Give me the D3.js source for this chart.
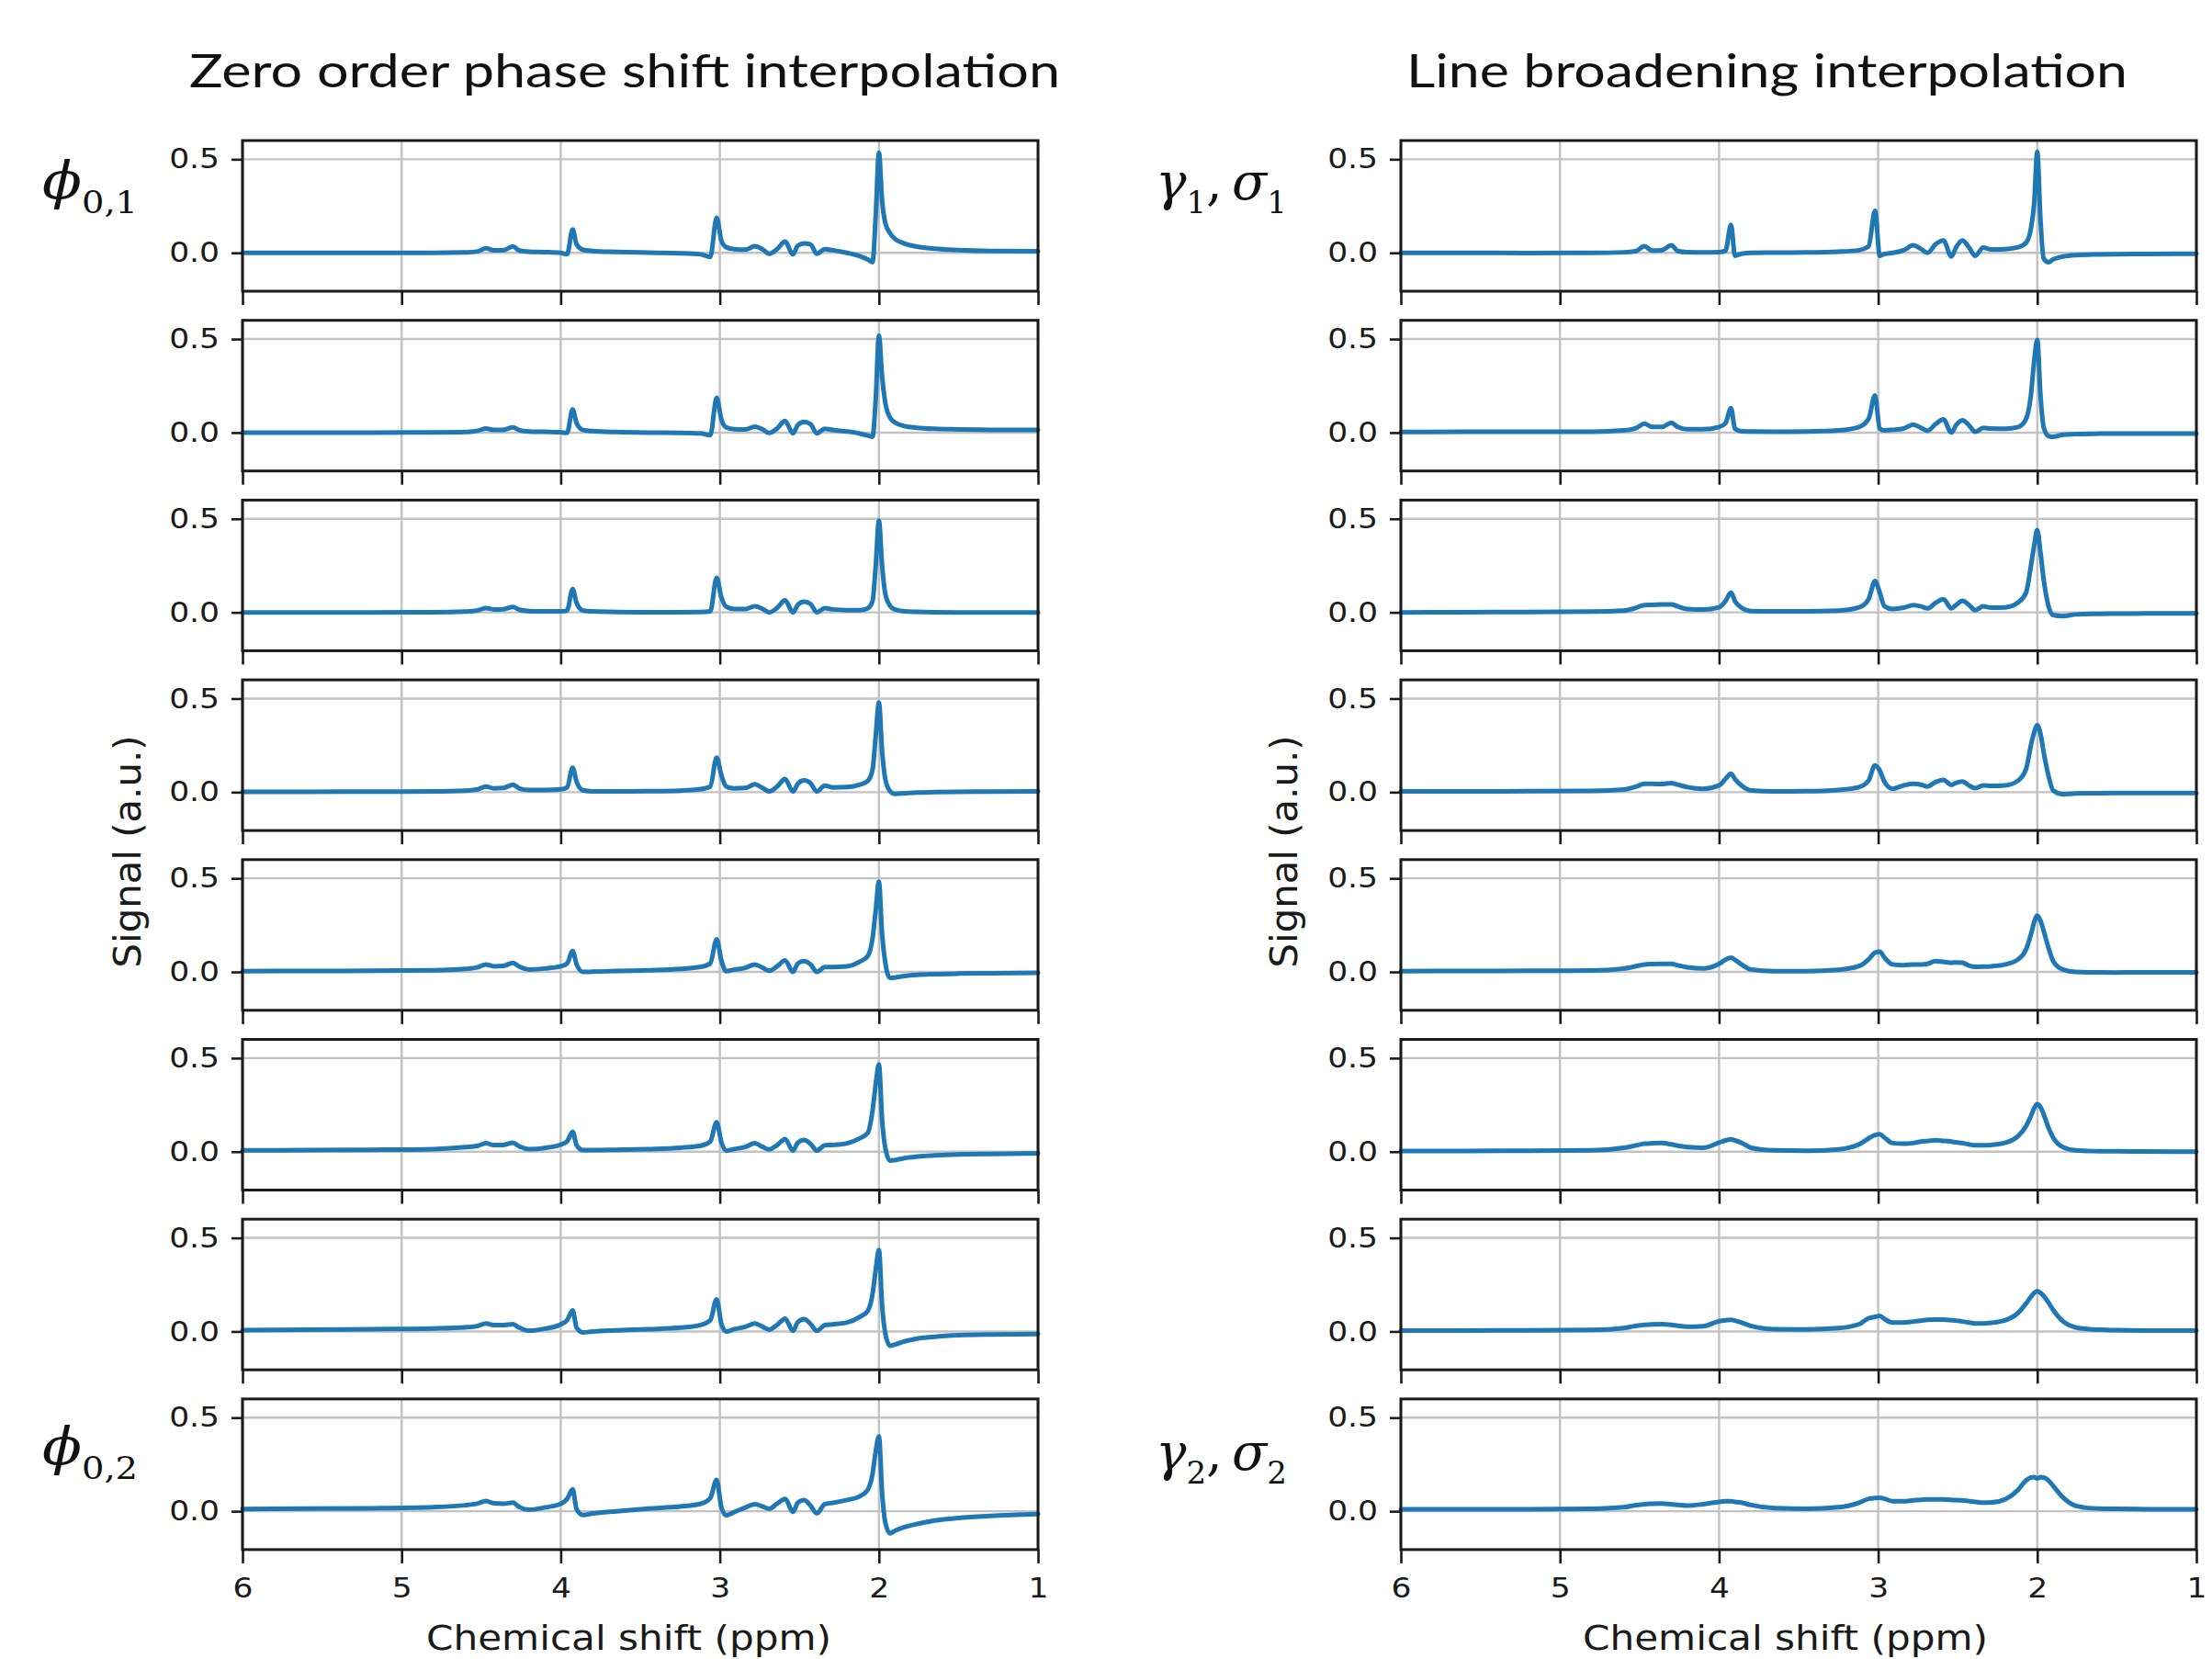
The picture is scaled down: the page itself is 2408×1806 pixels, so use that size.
<!DOCTYPE html>
<html><head><meta charset="utf-8">
<script src="https://cdn.jsdelivr.net/npm/d3@7"></script>
<style>body{margin:0;background:#fff} svg{display:block}</style>
</head><body>
<svg id="c" width="2408" height="1806"></svg>
<script>
// Shared chemical-shift sampling points (ppm)
const ppm = [6.0,5.6,5.2,4.8,4.6,4.52,4.47,4.42,4.36,4.3,4.26,4.2,4.1,4.0,3.96,3.925,3.9,3.86,3.8,3.65,3.45,3.25,3.12,3.06,3.02,2.99,2.96,2.91,2.84,2.78,2.73,2.69,2.64,2.59,2.54,2.51,2.47,2.43,2.39,2.34,2.29,2.2,2.12,2.07,2.04,2.02,2.0,1.98,1.96,1.93,1.9,1.84,1.76,1.65,1.5,1.3,1.0];

// Zero order phase shift interpolation (left column), rows 1..8
const phaseRow1 = [0.0,0.0,0.0,0.0,0.002,0.008,0.025,0.013,0.014,0.034,0.012,0.006,0.004,0.0,-0.008,0.125,0.045,0.016,0.01,0.005,0.001,-0.002,-0.008,-0.022,0.188,0.065,0.03,0.02,0.017,0.035,0.018,-0.005,0.02,0.06,-0.008,0.038,0.05,0.045,-0.005,0.02,0.014,0.0,-0.018,-0.036,-0.05,0.2,0.535,0.28,0.16,0.105,0.075,0.05,0.033,0.022,0.015,0.01,0.008];
const phaseRow2 = [0.0,0.0,0.0,0.001,0.003,0.01,0.022,0.014,0.015,0.028,0.013,0.006,0.004,0.002,-0.002,0.124,0.05,0.014,0.008,0.003,0.0,-0.001,-0.004,-0.014,0.186,0.07,0.028,0.018,0.017,0.032,0.017,-0.002,0.022,0.062,-0.004,0.04,0.057,0.045,-0.004,0.021,0.014,0.006,-0.005,-0.016,-0.022,0.18,0.518,0.3,0.16,0.08,0.055,0.035,0.026,0.02,0.017,0.015,0.014];
const phaseRow3 = [0.0,0.0,0.0,0.001,0.004,0.011,0.023,0.016,0.017,0.029,0.014,0.007,0.005,0.005,0.01,0.125,0.05,0.01,0.005,0.002,0.001,0.001,0.002,0.006,0.185,0.08,0.03,0.018,0.018,0.032,0.018,0.0,0.024,0.064,0.0,0.04,0.057,0.045,0.0,0.023,0.016,0.012,0.012,0.022,0.06,0.25,0.49,0.25,0.1,0.035,0.016,0.006,0.003,0.001,0.0,0.0,0.0];
const phaseRow4 = [0.002,0.002,0.003,0.004,0.008,0.015,0.03,0.02,0.022,0.04,0.02,0.012,0.012,0.015,0.025,0.13,0.055,0.01,0.004,0.004,0.005,0.008,0.016,0.03,0.185,0.09,0.03,0.02,0.022,0.042,0.022,0.004,0.03,0.07,0.003,0.045,0.063,0.048,0.003,0.035,0.025,0.027,0.04,0.06,0.12,0.3,0.479,0.22,0.07,0.005,-0.009,-0.006,-0.002,0.0,0.002,0.003,0.004];
const phaseRow5 = [0.004,0.005,0.006,0.009,0.016,0.025,0.04,0.03,0.032,0.048,0.028,0.013,0.018,0.03,0.045,0.112,0.04,0.0,0.001,0.005,0.009,0.016,0.027,0.045,0.175,0.06,0.004,0.012,0.022,0.04,0.022,0.006,0.03,0.061,0.0,0.045,0.058,0.04,0.0,0.026,0.026,0.03,0.055,0.085,0.18,0.33,0.482,0.2,0.05,-0.032,-0.03,-0.022,-0.016,-0.012,-0.009,-0.007,-0.005];
const phaseRow6 = [0.007,0.008,0.01,0.014,0.024,0.032,0.045,0.035,0.036,0.048,0.028,0.014,0.02,0.038,0.055,0.107,0.035,0.008,0.008,0.01,0.014,0.021,0.032,0.055,0.157,0.05,0.005,0.014,0.025,0.045,0.025,0.012,0.035,0.068,0.006,0.048,0.062,0.042,0.006,0.034,0.036,0.045,0.072,0.1,0.22,0.36,0.466,0.17,0.02,-0.048,-0.045,-0.034,-0.026,-0.02,-0.015,-0.012,-0.009];
const phaseRow7 = [0.007,0.009,0.012,0.016,0.022,0.03,0.043,0.034,0.034,0.039,0.02,0.004,0.015,0.038,0.06,0.113,0.02,-0.005,0.0,0.006,0.012,0.02,0.035,0.06,0.172,0.04,0.0,0.012,0.025,0.043,0.025,0.01,0.035,0.069,0.003,0.05,0.066,0.04,0.003,0.034,0.038,0.048,0.078,0.11,0.2,0.33,0.435,0.14,-0.01,-0.076,-0.07,-0.053,-0.038,-0.028,-0.02,-0.016,-0.014];
const phaseRow8 = [0.012,0.014,0.016,0.022,0.032,0.042,0.055,0.042,0.04,0.046,0.022,0.008,0.02,0.04,0.065,0.117,0.01,-0.02,-0.012,0.0,0.014,0.025,0.04,0.07,0.168,0.02,-0.022,-0.005,0.02,0.038,0.025,0.013,0.04,0.066,-0.003,0.045,0.06,0.03,-0.011,0.038,0.045,0.06,0.08,0.115,0.2,0.32,0.4,0.1,-0.06,-0.118,-0.105,-0.085,-0.068,-0.05,-0.036,-0.025,-0.015];

// Line broadening interpolation (right column), rows 1..8
const broadRow1 = [0.0,0.0,-0.001,0.0,0.003,0.01,0.035,0.012,0.014,0.04,0.01,0.004,0.003,0.004,0.01,0.15,-0.016,-0.005,0.0,0.001,0.002,0.006,0.014,0.035,0.225,-0.016,-0.006,0.0,0.014,0.04,0.02,0.0,0.045,0.066,-0.02,0.03,0.066,0.03,-0.016,0.028,0.018,0.02,0.03,0.055,0.13,0.26,0.54,0.18,-0.03,-0.05,-0.035,-0.02,-0.012,-0.009,-0.007,-0.006,-0.005];
const broadRow2 = [0.003,0.004,0.004,0.005,0.012,0.025,0.048,0.03,0.03,0.053,0.03,0.018,0.018,0.03,0.05,0.131,0.02,0.007,0.006,0.005,0.006,0.012,0.03,0.074,0.199,0.022,0.012,0.015,0.022,0.043,0.025,0.01,0.045,0.071,0.0,0.04,0.066,0.04,0.004,0.025,0.022,0.021,0.03,0.074,0.2,0.38,0.496,0.2,0.03,-0.018,-0.023,-0.011,-0.008,-0.006,-0.005,-0.005,-0.005];
const broadRow3 = [0.0,0.001,0.002,0.004,0.009,0.025,0.039,0.04,0.043,0.043,0.032,0.018,0.015,0.027,0.06,0.106,0.06,0.025,0.007,0.005,0.005,0.009,0.027,0.071,0.167,0.106,0.032,0.018,0.025,0.039,0.032,0.021,0.05,0.071,0.021,0.04,0.062,0.04,0.012,0.032,0.025,0.027,0.053,0.106,0.248,0.355,0.44,0.32,0.177,0.035,-0.014,-0.02,-0.011,-0.008,-0.007,-0.006,-0.005];
const broadRow4 = [0.004,0.004,0.005,0.007,0.014,0.03,0.045,0.044,0.043,0.048,0.04,0.027,0.018,0.036,0.07,0.098,0.07,0.036,0.009,0.004,0.005,0.012,0.027,0.0625,0.143,0.116,0.054,0.018,0.036,0.045,0.04,0.03,0.054,0.066,0.039,0.05,0.057,0.036,0.021,0.036,0.033,0.036,0.0625,0.125,0.25,0.318,0.357,0.3125,0.214,0.089,0.009,-0.011,-0.007,-0.006,-0.005,-0.004,-0.004];
const broadRow5 = [0.004,0.005,0.006,0.007,0.018,0.031,0.04,0.042,0.043,0.043,0.035,0.025,0.018,0.043,0.065,0.076,0.065,0.04,0.013,0.004,0.004,0.011,0.031,0.067,0.103,0.108,0.076,0.04,0.036,0.04,0.04,0.043,0.058,0.054,0.049,0.051,0.049,0.034,0.027,0.028,0.03,0.04,0.067,0.121,0.2,0.265,0.301,0.274,0.22,0.13,0.058,0.013,0.0,-0.002,-0.003,-0.002,-0.002];
const broadRow6 = [0.004,0.004,0.005,0.007,0.021,0.034,0.043,0.045,0.046,0.039,0.032,0.025,0.021,0.048,0.06,0.066,0.06,0.048,0.021,0.007,0.005,0.0125,0.039,0.071,0.089,0.093,0.075,0.046,0.043,0.046,0.054,0.057,0.061,0.058,0.054,0.05,0.046,0.039,0.034,0.034,0.036,0.048,0.084,0.1375,0.19,0.232,0.254,0.239,0.2,0.129,0.075,0.025,0.007,0.003,0.002,0.001,0.0];
const broadRow7 = [0.004,0.005,0.006,0.008,0.018,0.03,0.035,0.038,0.039,0.035,0.03,0.025,0.028,0.055,0.06,0.062,0.058,0.048,0.03,0.012,0.011,0.018,0.039,0.071,0.078,0.083,0.066,0.048,0.048,0.053,0.058,0.062,0.064,0.063,0.06,0.058,0.053,0.048,0.043,0.043,0.046,0.06,0.1,0.15,0.185,0.205,0.216,0.206,0.19,0.155,0.115,0.055,0.022,0.011,0.007,0.005,0.004];
const broadRow8 = [0.01,0.01,0.01,0.013,0.021,0.033,0.038,0.04,0.041,0.037,0.034,0.03,0.038,0.05,0.053,0.054,0.05,0.046,0.033,0.0165,0.013,0.021,0.046,0.066,0.071,0.072,0.066,0.054,0.053,0.058,0.061,0.063,0.063,0.063,0.061,0.059,0.058,0.054,0.05,0.046,0.047,0.065,0.115,0.165,0.18,0.182,0.176,0.182,0.18,0.165,0.135,0.075,0.03,0.016,0.013,0.011,0.01];

const phaseRows = [phaseRow1,phaseRow2,phaseRow3,phaseRow4,phaseRow5,phaseRow6,phaseRow7,phaseRow8];
const broadRows = [broadRow1,broadRow2,broadRow3,broadRow4,broadRow5,broadRow6,broadRow7,broadRow8];

const xTicks = [6,5,4,3,2,1];
const yTicks = [0.0,0.5];
const titles = ["Zero order phase shift interpolation","Line broadening interpolation"];
const xLabel = "Chemical shift (ppm)";
const yLabel = "Signal (a.u.)";

// ---------------- layout ----------------
const svg = d3.select('#c');
const cols = [
  {x0:264, x1:1130, rows:phaseRows, title:titles[0], tx:206, tw:948, xlx:464, ylx:153},
  {x0:1525, x1:2391, rows:broadRows, title:titles[1], tx:1531, tw:785, xlx:1723, ylx:1412}
];
const rowTop0 = 153, rowStep = 195.7, rowH = 164;
const yDomain = [-0.205, 0.6];
const STRETCH = 1.15;
const lineColor = '#1f77b4';

cols.forEach((col, ci) => {
  const x = d3.scaleLinear().domain([6,1]).range([col.x0, col.x1]);
  col.rows.forEach((vals, ri) => {
    const top = rowTop0 + ri*rowStep;
    const y = d3.scaleLinear().domain(yDomain).range([top+rowH, top]);
    const g = svg.append('g');
    g.selectAll('line.gx').data(xTicks).join('line').attr('class','gx')
      .attr('x1', d=>x(d)).attr('x2', d=>x(d)).attr('y1', top).attr('y2', top+rowH)
      .attr('stroke','#c2c2c2').attr('stroke-width',2.4);
    g.selectAll('line.gy').data(yTicks).join('line').attr('class','gy')
      .attr('x1', col.x0).attr('x2', col.x1).attr('y1', d=>y(d)).attr('y2', d=>y(d))
      .attr('stroke','#c2c2c2').attr('stroke-width',2.4);
    const pts = ppm.map((p,i)=>[p, vals[i]]);
    g.append('path').datum(pts)
      .attr('d', d3.line().x(d=>x(d[0])).y(d=>y(d[1])).curve(d3.curveMonotoneX))
      .attr('fill','none').attr('stroke',lineColor).attr('stroke-width',5)
      .attr('stroke-linejoin','round').attr('stroke-linecap','round');
    const ax = d3.axisBottom(x).tickValues(xTicks).tickSize(15).tickSizeOuter(0).tickPadding(16)
      .tickFormat(ri===7 ? d3.format('d') : ()=>'');
    const axg = g.append('g').attr('transform',`translate(0,${top+rowH})`).call(ax);
    const ay = d3.axisLeft(y).tickValues(yTicks).tickSize(12).tickSizeOuter(0).tickPadding(13)
      .tickFormat(d3.format('.1f'));
    const ayg = g.append('g').attr('transform',`translate(${col.x0},0)`).call(ay);
    [axg, ayg].forEach(a => {
      a.select('.domain').remove();
      a.selectAll('line').attr('stroke','#1a1a1a').attr('stroke-width',2.6);
      a.selectAll('text').attr('class','hs').attr('fill','#1a1a1a')
        .style('font-family','"DejaVu Sans"').style('font-size','30px');
    });
    g.append('rect').attr('x',col.x0).attr('y',top).attr('width',col.x1-col.x0).attr('height',rowH)
      .attr('fill','none').attr('stroke','#1a1a1a').attr('stroke-width',3);
  });

  // titles
  svg.append('text').attr('x', col.tx).attr('y', 95).text(col.title)
    .attr('textLength', col.tw).attr('lengthAdjust','spacingAndGlyphs')
    .style('font-family','Lato, "Open Sans", sans-serif').style('font-size','50px').attr('fill','#111');
  // x label
  svg.append('text').attr('x', col.xlx).attr('y', 1796).text(xLabel)
    .attr('textLength', 441).attr('lengthAdjust','spacingAndGlyphs')
    .style('font-family','"DejaVu Sans"').style('font-size','38px').attr('fill','#1a1a1a');
  // y label
  svg.append('text').attr('transform',`translate(${col.ylx},927) rotate(-90)`)
    .attr('text-anchor','middle').text(yLabel)
    .attr('textLength', 253).attr('lengthAdjust','spacingAndGlyphs')
    .style('font-family','"DejaVu Sans"').style('font-size','40px').attr('fill','#1a1a1a');
});

// parameter labels (math)
function phiLabel(xp, yb, sub){
  const t = svg.append('text').attr('x', xp).attr('y', yb)
    .style('font-family','"DejaVu Serif", "Liberation Serif", serif').attr('fill','#111');
  t.append('tspan').text('ϕ').style('font-style','italic').style('font-size','56px');
  t.append('tspan').text(sub).attr('dy',16).style('font-size','34px');
  t.attr('textLength',104).attr('lengthAdjust','spacingAndGlyphs');
}
function gsLabel(xp, yb, sub){
  const t = svg.append('text').attr('x', xp).attr('y', yb)
    .style('font-family','"DejaVu Serif", "Liberation Serif", serif').attr('fill','#111');
  t.append('tspan').text('γ').style('font-style','italic').style('font-size','56px');
  t.append('tspan').text(sub).attr('dy',15).style('font-size','34px');
  t.append('tspan').text(',').attr('dy',-15).style('font-size','56px');
  t.append('tspan').text('σ').attr('dx',10).style('font-style','italic').style('font-size','56px');
  t.append('tspan').text(sub).attr('dy',15).style('font-size','34px');
}
phiLabel(46, 216, '0,1');
phiLabel(46, 1594, '0,2');
gsLabel(1258, 217, '1');
gsLabel(1258, 1600, '2');

// horizontal stretch of tick labels to match the reference's aspect
svg.selectAll('text.hs').each(function(){
  const n = this.getComputedTextLength();
  if (n > 0) d3.select(this).attr('textLength', n*STRETCH).attr('lengthAdjust','spacingAndGlyphs');
});
</script>
</body></html>
